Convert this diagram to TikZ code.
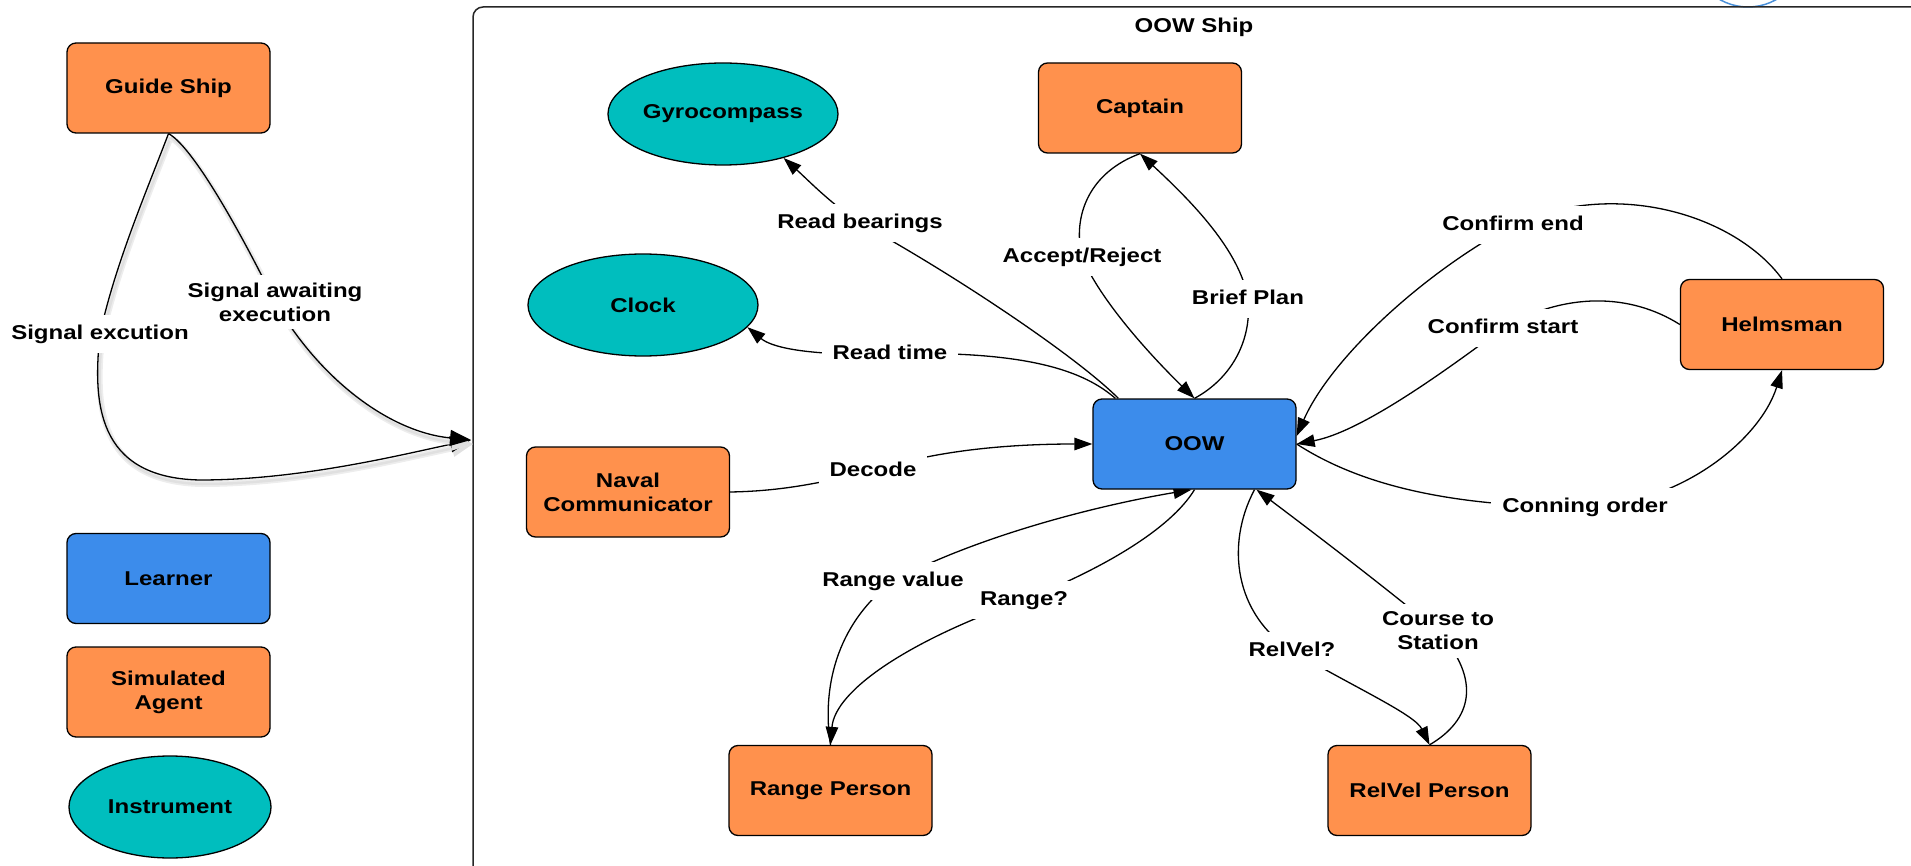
\documentclass[tikz,border=0pt]{standalone}
\usepackage{fontspec}
\setmainfont{Liberation Sans}[FakeStretch=1.2]
\usetikzlibrary{arrows.meta,shapes.geometric,calc}
\definecolor{agentc}{HTML}{FF914D}
\definecolor{learnc}{HTML}{3C8CEB}
\definecolor{instrc}{HTML}{00BEBE}
\definecolor{arcblue}{HTML}{4A90D9}
\pgfdeclarelayer{bg}
\pgfsetlayers{bg,main}
\begin{document}
\begin{tikzpicture}[x=1pt,y=-1pt,
  every node/.style={font=\fontsize{20}{24}\selectfont\bfseries},
  box/.style={draw=black, line width=1.3pt, rounded corners=9pt, minimum width=203pt, minimum height=90pt, inner sep=0pt, align=center},
  agentbox/.style={box, fill=agentc},
  learnbox/.style={box, fill=learnc},
  instell/.style={ellipse, draw=black, line width=1.3pt, fill=instrc, minimum width=230pt, minimum height=102pt, inner sep=0pt},
  lbl/.style={fill=white, inner xsep=11pt, inner ysep=10pt, text height=14.5pt, text depth=4pt},
  lbltwo/.style={fill=white, inner xsep=11pt, inner ysep=8pt, align=center},
  conn/.style={line width=1.3pt, -{Triangle[length=18pt,width=12.5pt]}},
  bigconn/.style={line width=1.3pt, -{Triangle[length=21pt,width=16pt]}},
  shadowed/.style={preaction={draw=black!7, line width=6pt, transform canvas={shift={(2pt,-4pt)}}},
                   preaction={draw=black!12, line width=2.5pt, transform canvas={shift={(2pt,-4pt)}}}}
]
\useasboundingbox (0,0) rectangle (1911,866);

% legend and guide ship
\node[agentbox] (gs) at (168.5,88) {Guide Ship};
\node[learnbox] (learner) at (168.5,578.5) {Learner};
\node[agentbox] (simag) at (168.5,692) {Simulated\\Agent};
\node[instell, minimum width=202pt] (instrument) at (170,807) {Instrument};

% OOW ship contents
\node (title) at (1194,27) {OOW Ship};
\node[instell] (gyro) at (723,114) {Gyrocompass};
\node[instell] (clock) at (643,305) {Clock};
\node[agentbox] (cap) at (1140,108) {Captain};
\node[learnbox] (oow) at (1194.5,444) {OOW};
\node[agentbox] (nc) at (628,492) {Naval\\Communicator};
\node[agentbox] (helm) at (1782,324.5) {Helmsman};
\node[agentbox] (rp) at (830.5,790.5) {Range Person};
\node[agentbox] (rv) at (1429.5,790.5) {RelVel Person};

% labels
\node[lbl] (lSE) at (100,334) {Signal excution};
\node[lbltwo] (lSA) at (275,302) {Signal awaiting\\execution};
\node[lbl] (lRB) at (860,223) {Read bearings};
\node[lbl] (lRT) at (890,354) {Read time};
\node[lbl] (lDec) at (873,471) {Decode};
\node[lbl] (lAR) at (1082,257) {Accept/Reject};
\node[lbl] (lBP) at (1248,299) {Brief Plan};
\node[lbl] (lCE) at (1513,225) {Confirm end};
\node[lbl] (lCS) at (1503,328) {Confirm start};
\node[lbl] (lCO) at (1585,507) {Conning order};
\node[lbl] (lRV) at (893,581) {Range value};
\node[lbl] (lRQ) at (1024,600) {Range?};
\node[lbl] (lRelV) at (1292,651) {RelVel?};
\node[lbltwo] (lCTS) at (1438,631) {Course to\\Station};

\coordinate (fin) at (471,440);

\begin{pgfonlayer}{bg}
  \draw[arcblue, line width=1.5pt] (1748,-50) circle[radius=57];
  \draw[line width=1.5pt, draw=black!85, rounded corners=10pt] (473,7) rectangle (2000,950);

  % guide ship signals
  \draw[bigconn, shadowed] (gs.south) .. controls (145,195) and (115,265) .. (lSE.center)
      .. controls (93,400) and (95,478) .. (200,480) .. controls (300,480) and (400,455) .. (fin);
  \draw[bigconn, shadowed] (gs.south) .. controls (190,145) and (232,215) .. (lSA.center)
      .. controls (320,380) and (390,432) .. (fin);

  % instruments
  \draw[conn] ([xshift=26pt]oow.north west) .. controls (1075,355) and (950,272) .. (lRB.center)
      .. controls (830,203) and (808,180) .. (gyro.-36);
  \draw[conn] ([xshift=23pt]oow.north west) .. controls (1085,372) and (1030,350) .. (lRT.center)
      .. controls (800,356) and (770,346) .. (clock.-12);

  % naval communicator
  \draw[conn] (nc.east) .. controls (790,491) and (830,480) .. (lDec.center)
      .. controls (930,452) and (1000,444) .. (oow.west);

  % captain
  \draw[conn] (cap.south) .. controls (1090,172) and (1072,215) .. (lAR.center)
      .. controls (1100,300) and (1150,355) .. (oow.north);
  \draw[conn] (oow.north) .. controls (1232,378) and (1252,340) .. (lBP.center)
      .. controls (1240,250) and (1190,200) .. (cap.south);

  % helmsman
  \draw[conn] (helm.north) .. controls (1735,215) and (1615,178) .. (lCE.center)
      .. controls (1420,275) and (1330,360) .. ([yshift=8pt]oow.east);
  \draw[conn] (helm.west) .. controls (1630,293) and (1565,292) .. (lCS.center)
      .. controls (1440,375) and (1360,432) .. (oow.east);
  \draw[conn] (oow.east) .. controls (1360,485) and (1450,507) .. (lCO.center)
      .. controls (1680,505) and (1760,440) .. (helm.south);

  % range person
  \draw[conn] (rp.north) .. controls (822,690) and (835,625) .. (lRV.center)
      .. controls (980,535) and (1100,505) .. ([xshift=-3pt]oow.south);
  \draw[conn] (oow.south) .. controls (1170,530) and (1100,570) .. (lRQ.center)
      .. controls (910,640) and (835,690) .. (rp.north);

  % relvel person
  \draw[conn] ([xshift=60pt]oow.south) .. controls (1225,545) and (1235,615) .. (lRelV.center)
      .. controls (1360,690) and (1415,715) .. (rv.north);
  \draw[conn] (rv.north) .. controls (1472,720) and (1482,680) .. (lCTS.center)
      .. controls (1370,575) and (1290,515) .. ([xshift=62pt]oow.south);
\end{pgfonlayer}
\end{tikzpicture}
\end{document}
